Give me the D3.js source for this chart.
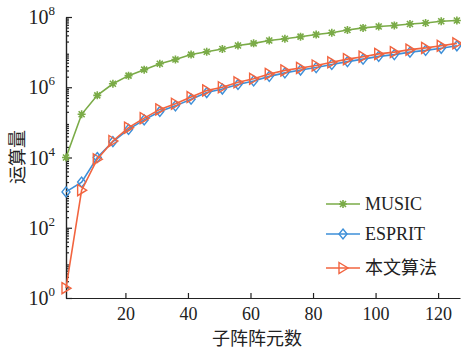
<!DOCTYPE html>
<meta charset="utf-8">
<style>
body { margin: 0; background: #fff; }
text { font-family: "Liberation Serif", "Times New Roman", serif; fill: #222; }
.axis path, .axis line { fill: none; stroke: #222; stroke-width: 1.2; }
</style>
<body>
<script src="https://cdn.jsdelivr.net/npm/d3@7"></script>
<script>
// 子阵阵元数
var elements = d3.range(1, 127, 5);
// log10 of operation count
var musicLog = [4.00, 5.23, 5.77, 6.10, 6.33, 6.50, 6.67, 6.79, 6.93, 7.01, 7.09, 7.19, 7.25,
  7.33, 7.38, 7.44, 7.50, 7.55, 7.63, 7.69, 7.73, 7.76, 7.80, 7.83, 7.88, 7.90];
var espritLog = [3.02, 3.30, 4.00, 4.45, 4.80, 5.07, 5.31, 5.47, 5.66, 5.85, 5.95, 6.08, 6.18,
  6.31, 6.41, 6.49, 6.56, 6.65, 6.73, 6.80, 6.88, 6.93, 7.00, 7.05, 7.11, 7.18];
var oursLog = [0.28, 3.07, 3.95, 4.47, 4.85, 5.12, 5.37, 5.53, 5.72, 5.91, 6.00, 6.14, 6.24,
  6.38, 6.48, 6.55, 6.62, 6.71, 6.80, 6.87, 6.95, 7.00, 7.07, 7.12, 7.18, 7.25];
var seriesNames = ["MUSIC", "ESPRIT", "本文算法"];
var xTicks = [20, 40, 60, 80, 100, 120];
var yExps = [0, 2, 4, 6, 8];

var colors = ["#7aab47", "#3d8fd8", "#f2643f"];
var serif = "'Liberation Serif', 'Times New Roman', serif";
var width = 461, height = 351;
var plotLeft = 66, plotRight = 460, plotTop = 17, plotBottom = 298;

var svg = d3.select("body").append("svg")
    .attr("width", width)
    .attr("height", height);

var x = d3.scaleLinear().domain([1, 127]).range([plotLeft, plotRight]);
var y = d3.scaleLog().domain([1, 1e8]).range([plotBottom, plotTop]);

// x axis, ticks pointing inward
var xAxis = svg.append("g")
    .attr("class", "axis")
    .attr("transform", "translate(0," + plotBottom + ")")
    .call(d3.axisBottom(x).tickValues(xTicks).tickSize(-5).tickSizeOuter(0).tickPadding(9));
xAxis.attr("font-family", null);
xAxis.selectAll("text")
    .style("font-family", serif)
    .style("font-size", "18px")
    .style("fill", "#222");

// y axis with minor ticks
var minor = [];
for (var k = 0; k < 8; k++) for (var m = 2; m < 10; m++) minor.push(m * Math.pow(10, k));
svg.append("g")
    .attr("class", "axis")
    .attr("transform", "translate(" + plotLeft + ",0)")
    .call(d3.axisLeft(y).tickValues(minor).tickSize(-3).tickSizeOuter(0).tickFormat(""));
svg.append("g")
    .attr("class", "axis")
    .attr("transform", "translate(" + plotLeft + ",0)")
    .call(d3.axisLeft(y).tickValues(yExps.map(function(e) { return Math.pow(10, e); }))
      .tickSize(-6).tickSizeOuter(0).tickFormat(""));

var yl = svg.selectAll(".ylab")
    .data(yExps)
  .enter().append("text")
    .attr("class", "ylab")
    .attr("x", 55)
    .attr("y", function(d) { return y(Math.pow(10, d)) + 7; })
    .attr("text-anchor", "end")
    .style("font-family", serif)
    .style("font-size", "20px");
yl.append("tspan").text("10");
yl.append("tspan").attr("dy", -9).style("font-size", "13px").text(function(d) { return d; });

svg.append("text")
    .attr("x", (plotLeft + plotRight) / 2 - 6)
    .attr("y", 345)
    .attr("text-anchor", "middle")
    .style("font-family", "'Noto Sans CJK SC', sans-serif")
    .style("font-size", "18px")
    .text("子阵阵元数");

svg.append("text")
    .attr("transform", "translate(24,157) rotate(-90)")
    .attr("text-anchor", "middle")
    .style("font-family", "'Noto Sans CJK SC', sans-serif")
    .style("font-size", "18px")
    .text("运算量");

var data = [musicLog, espritLog, oursLog].map(function(s) {
  return s.map(function(v, i) { return {x: elements[i], y: Math.pow(10, v)}; });
});

var line = d3.line()
    .x(function(d) { return x(d.x); })
    .y(function(d) { return y(d.y); });

function marker(g, i) {
  if (i === 0) {
    var r = 4;
    g.append("path")
      .attr("d", "M" + (-r) + ",0H" + r + "M0," + (-r) + "V" + r +
        "M-3,-3L3,3M-3,3L3,-3")
      .attr("stroke", colors[0]).attr("stroke-width", 1.6).attr("fill", "none");
  } else if (i === 1) {
    g.append("path")
      .attr("d", "M0,-5L4,0L0,5L-4,0Z")
      .attr("stroke", colors[1]).attr("stroke-width", 1.4).attr("fill", "none");
  } else {
    g.append("path")
      .attr("d", "M-4,-5.5L5,0L-4,5.5Z")
      .attr("stroke", colors[2]).attr("stroke-width", 1.4).attr("fill", "none");
  }
}

data.forEach(function(s, i) {
  svg.append("path")
      .datum(s)
      .attr("fill", "none")
      .attr("stroke", colors[i])
      .attr("stroke-width", 1.6)
      .attr("d", line);
  svg.selectAll(".pt" + i)
      .data(s)
    .enter().append("g")
      .attr("class", "pt" + i)
      .attr("transform", function(d) { return "translate(" + x(d.x) + "," + y(d.y) + ")"; })
      .each(function() { marker(d3.select(this), i); });
});

// legend
var legend = svg.selectAll(".legend")
    .data(seriesNames)
  .enter().append("g")
    .attr("class", "legend")
    .attr("transform", function(d, i) { return "translate(326," + [204, 234, 268][i] + ")"; });

legend.append("line")
    .attr("x1", 0).attr("x2", 34)
    .attr("stroke", function(d, i) { return colors[i]; })
    .attr("stroke-width", 1.6);
legend.each(function(d, i) {
  var g = d3.select(this).append("g").attr("transform", "translate(17,0)");
  marker(g, i);
});
legend.append("text")
    .attr("x", 39)
    .attr("y", 6)
    .style("font-size", "18px")
    .style("font-family", function(d, i) { return i === 2 ? "'Noto Sans CJK SC', serif" : serif; })
    .text(function(d) { return d; });
</script>
</body>
</html>
